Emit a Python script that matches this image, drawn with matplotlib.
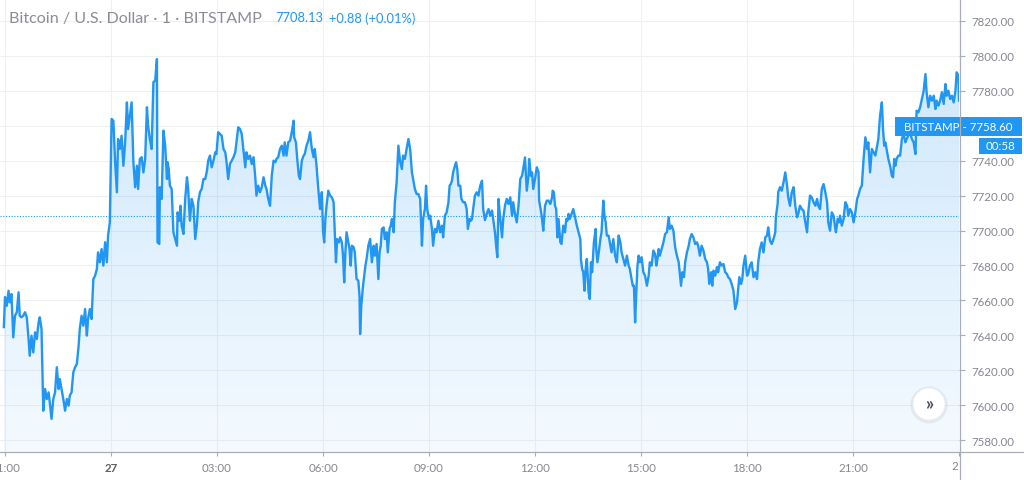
import numpy as np
import matplotlib.pyplot as plt
from matplotlib.patches import Rectangle, Ellipse
from matplotlib.lines import Line2D

plt.rcParams['font.family'] = ['Lato', 'DejaVu Sans']

# minutes since 21:00 (day 26), BITSTAMP BTC/USD 1-minute closes
minutes = [
    -2, 0, 3, 6, 8, 11, 14, 17, 20, 23, 25, 28, 31, 34, 37, 40, 42, 45, 48, 51, 54, 57, 59, 62, 65, 68, 71, 74, 76, 79,
    82, 85, 88, 91, 93, 96, 99, 102, 105, 108, 110, 113, 116, 119, 122, 125, 127, 130, 133, 136, 139, 141, 144, 147,
    150, 153, 156, 158, 161, 164, 167, 170, 173, 175, 178, 181, 184, 187, 190, 192, 195, 198, 201, 204, 207, 209, 212,
    215, 218, 221, 224, 226, 229, 232, 235, 238, 241, 243, 246, 249, 252, 255, 258, 259, 262,
    263, 266, 269, 272, 275, 276, 278, 280, 283, 286, 289, 292, 293, 296, 298, 300, 303, 306, 309, 311, 314, 317, 320,
    323, 326, 328, 331, 334, 337, 340, 343, 345, 348, 351, 354, 357, 359, 362, 365, 368, 371, 374, 376, 379, 382, 385,
    388, 391, 393, 396, 399, 402, 405, 408, 410, 413, 416, 419, 422, 425, 427, 430, 433, 436, 439, 442, 444, 447, 450,
    453, 456, 459, 461, 464, 467, 470, 473, 475, 478, 481, 484, 487, 490, 491, 494, 496, 499, 501, 504, 507, 509, 512,
    515, 518, 521, 524, 526, 529, 532, 535, 538, 540, 542, 544, 546, 549, 552, 555, 558, 560, 562, 564, 567, 569, 572,
    574, 576, 578, 580, 583, 585, 587, 589, 592, 594, 597, 600, 602, 603, 605, 608, 610, 612, 614, 617, 620, 623, 626,
    628, 631, 634, 636, 638, 640, 643, 645, 648, 650, 653, 655, 657, 660, 662, 665, 668, 671, 674, 676, 679, 682, 685,
    688, 691, 693, 696, 699, 702, 705, 708, 710, 713, 715, 717, 720, 722, 725, 727, 730, 733, 736, 739, 742, 744, 747,
    750, 753, 755, 757, 759, 761, 764, 766, 768, 770, 773, 775, 778, 781, 784, 786, 789, 791, 793, 795, 798, 801, 804,
    807, 810, 812, 815, 818, 821, 824, 827, 829, 832, 834, 836, 838, 841, 844, 846, 849, 852, 855, 858, 861, 863, 866,
    869, 872, 875, 878, 880, 883, 886, 889, 890, 893, 895, 897, 900, 903, 906, 907, 910, 912, 914, 917, 920, 923, 926,
    929, 930, 932, 934, 936, 938, 940, 943, 945, 948, 951, 953, 955, 957, 959, 962, 965, 968, 971, 974, 977, 978, 980,
    982, 984, 986, 988, 991, 993, 995, 997, 1000, 1003, 1004, 1006, 1009, 1011, 1013, 1016, 1018, 1020, 1022, 1025,
    1028, 1030, 1033, 1036, 1039, 1042, 1045, 1047, 1050, 1053, 1056, 1059, 1061, 1064, 1066, 1068, 1070, 1072, 1074,
    1076, 1078, 1081, 1084, 1087, 1090, 1093, 1095, 1098, 1101, 1104, 1106, 1108, 1110, 1112, 1115, 1118, 1121, 1124,
    1127, 1129, 1132, 1135, 1138, 1141, 1144, 1146, 1148, 1150, 1153, 1155, 1158, 1161, 1163, 1166, 1169, 1172, 1175,
    1177, 1180, 1183, 1186, 1189, 1192, 1194, 1196, 1199, 1201, 1203, 1206, 1209, 1211, 1214, 1217, 1220, 1223, 1226,
    1228, 1231, 1234, 1237, 1240, 1243, 1245, 1247, 1250, 1252, 1254, 1257, 1260, 1262, 1265, 1268, 1271, 1274, 1277,
    1279, 1282, 1285, 1288, 1291, 1294, 1296, 1299, 1302, 1305, 1308, 1309, 1312, 1313, 1316, 1319, 1322, 1325, 1328,
    1330, 1333, 1336, 1339, 1342, 1345, 1347, 1350, 1353, 1356, 1359, 1362, 1364, 1367, 1370, 1373, 1376, 1379, 1381,
    1384, 1387, 1390, 1393, 1396, 1398, 1401, 1404, 1407, 1410, 1411, 1414, 1416, 1418, 1421, 1424, 1427, 1430, 1432,
    1435, 1438, 1441, 1444, 1447, 1449, 1452, 1455, 1458, 1461, 1464, 1466, 1469, 1472, 1475, 1478, 1481, 1483, 1486,
    1489, 1491, 1493, 1495, 1498, 1500, 1503, 1506, 1508, 1510, 1512, 1514, 1517, 1520, 1523, 1526, 1529, 1531, 1534,
    1537, 1540, 1543, 1546, 1548, 1551, 1554, 1557, 1560, 1563, 1565, 1568, 1571, 1574, 1577, 1580, 1582, 1585, 1588,
    1591, 1594, 1597, 1599, 1602, 1605, 1608, 1611, 1614, 1616, 1619, 1620,
]
prices = [
    7644.7, 7661.9, 7656.9, 7665.5, 7658.9, 7663.6, 7638.8, 7651.2, 7653.2, 7664.6, 7651.2, 7650.3, 7651.2, 7653.2,
    7650.3, 7637.9, 7628.3, 7639.8, 7630.2, 7641.7, 7637.9, 7647.4, 7650.3, 7643.6, 7596.8, 7609.2, 7603.5, 7607.3,
    7601.6, 7592.1, 7603.5, 7607.3, 7621.7, 7609.2, 7614.9, 7609.2, 7603.5, 7596.8, 7603.5, 7599.7, 7605.4, 7607.3,
    7618.8, 7621.7, 7623.6, 7634.1, 7643.6, 7651.2, 7645.5, 7655.0, 7639.8, 7649.3, 7655.0, 7649.3, 7672.2, 7674.1,
    7678.0, 7687.5, 7681.8, 7689.4, 7679.9, 7693.3, 7681.8, 7697.1, 7704.7, 7763.9, 7762.9, 7739.1, 7721.9, 7752.4,
    7746.7, 7754.3, 7737.1, 7750.5, 7773.4, 7758.1, 7765.8, 7773.4, 7739.1, 7724.8, 7737.1, 7723.8, 7741.0, 7742.0,
    7733.3, 7741.0, 7770.6, 7760.0, 7752.4, 7746.7, 7784.9, 7785.8, 7798.2, 7693.2, 7692.3,
    7724.8, 7718.1, 7757.2, 7748.6, 7729.5, 7739.1, 7735.2, 7725.7, 7723.8, 7698.9, 7695.1, 7691.3, 7710.4, 7705.6,
    7714.2, 7702.8, 7698.0, 7718.1, 7730.5, 7723.8, 7705.6, 7718.1, 7714.2, 7695.1, 7703.7, 7716.1, 7721.9, 7723.8,
    7729.5, 7729.5, 7734.3, 7740.0, 7742.9, 7736.2, 7740.0, 7744.8, 7743.8, 7756.3, 7755.3, 7754.3, 7746.7, 7744.8,
    7740.0, 7729.5, 7738.1, 7740.0, 7742.0, 7744.8, 7750.5, 7759.1, 7758.2, 7755.3, 7745.7, 7736.2, 7744.8, 7741.0,
    7742.9, 7738.1, 7742.0, 7730.5, 7720.0, 7725.7, 7721.9, 7724.8, 7730.5, 7725.7, 7723.8, 7718.1, 7714.2, 7731.4,
    7740.0, 7739.1, 7741.0, 7742.0, 7746.7, 7748.6, 7742.9, 7750.5, 7742.9, 7750.5, 7751.4, 7756.3, 7762.9, 7753.4,
    7750.5, 7742.0, 7731.4, 7729.5, 7740.0, 7742.9, 7743.8, 7748.6, 7751.4, 7756.3, 7746.7, 7742.0, 7746.7, 7737.1,
    7723.8, 7712.3, 7722.0, 7700.0, 7693.2, 7706.6, 7714.2, 7722.8, 7720.0, 7719.0, 7716.2, 7699.0, 7681.8, 7695.1,
    7693.2, 7696.1, 7693.2, 7685.6, 7670.3, 7687.5, 7699.0, 7693.2, 7689.4, 7679.9, 7691.3, 7690.4, 7687.5, 7672.2,
    7671.3, 7662.7, 7640.7, 7656.9, 7668.4, 7674.1, 7679.9, 7683.7, 7691.3, 7695.1, 7681.8, 7691.3, 7685.6, 7692.3,
    7672.2, 7687.5, 7691.3, 7700.9, 7701.8, 7695.1, 7699.0, 7687.5, 7700.9, 7702.8, 7706.6, 7699.0, 7716.2, 7727.6,
    7748.6, 7739.3, 7735.2, 7742.9, 7741.0, 7746.7, 7752.4, 7746.7, 7733.3, 7729.5, 7723.8, 7720.9, 7720.9, 7718.1,
    7691.3, 7706.6, 7712.3, 7725.7, 7712.3, 7706.6, 7708.5, 7700.9, 7691.3, 7700.9, 7699.0, 7705.6, 7699.0, 7702.8,
    7696.1, 7708.5, 7710.4, 7716.2, 7725.7, 7726.6, 7728.5, 7733.3, 7737.1, 7739.1, 7735.2, 7725.7, 7725.7, 7718.1,
    7716.2, 7716.2, 7712.3, 7700.9, 7706.6, 7705.6, 7706.6, 7712.3, 7720.0, 7721.9, 7720.0, 7725.7, 7728.5, 7712.3,
    7706.0, 7709.5, 7712.3, 7708.5, 7711.4, 7706.6, 7699.0, 7691.3, 7684.7, 7718.1, 7706.6, 7696.1, 7706.6, 7714.2,
    7718.1, 7715.2, 7719.0, 7708.5, 7716.2, 7709.5, 7704.7, 7714.2, 7729.5, 7731.4, 7735.2, 7741.9, 7722.8, 7731.4,
    7741.0, 7731.4, 7733.3, 7723.8, 7729.5, 7736.2, 7733.3, 7717.1, 7711.4, 7706.6, 7699.9, 7714.2, 7717.1, 7717.1,
    7715.2, 7719.0, 7722.8, 7721.9, 7714.2, 7712.3, 7696.1, 7706.6, 7693.2, 7692.3, 7702.8, 7699.0, 7706.6, 7705.6,
    7709.5, 7706.6, 7709.5, 7712.3, 7707.6, 7702.8, 7699.0, 7695.1, 7683.7, 7678.0, 7676.1, 7665.5, 7678.0, 7683.7,
    7664.6, 7660.8, 7681.8, 7676.1, 7693.2, 7700.9, 7689.4, 7681.8, 7689.4, 7695.1, 7699.0, 7717.1, 7708.5, 7704.7,
    7697.1, 7697.1, 7691.3, 7687.5, 7695.1, 7685.6, 7681.8, 7697.1, 7693.2, 7687.5, 7683.7, 7679.9, 7685.6, 7679.9,
    7678.0, 7672.2, 7668.4, 7668.4, 7647.4, 7664.6, 7679.9, 7685.6, 7681.8, 7684.7, 7676.1, 7674.0, 7668.4, 7674.1,
    7681.8, 7679.9, 7688.5, 7686.6, 7679.9, 7683.7, 7689.4, 7685.6, 7689.4, 7693.2, 7698.0, 7699.0, 7707.6, 7700.9,
    7702.8, 7699.9, 7690.4, 7685.6, 7681.8, 7675.1, 7668.4, 7676.1, 7673.3, 7681.8, 7687.5, 7691.3, 7695.1, 7698.0,
    7696.1, 7692.3, 7693.2, 7691.3, 7685.6, 7691.3, 7688.5, 7683.7, 7681.8, 7678.0, 7669.4, 7676.1, 7668.4, 7677.0,
    7674.1, 7679.1, 7676.1, 7681.8, 7679.9, 7680.8, 7676.1, 7675.1, 7673.3, 7672.2, 7669.4, 7665.5, 7655.0, 7658.9,
    7666.5, 7673.3, 7669.4, 7672.2, 7679.9, 7685.6, 7674.1, 7675.1, 7679.9, 7681.8, 7673.3, 7676.1, 7672.2, 7681.8,
    7689.4, 7693.2, 7687.5, 7696.1, 7697.1, 7701.8, 7694.2, 7692.3, 7695.1, 7699.0, 7707.6, 7715.2, 7721.9, 7724.8,
    7722.8, 7727.6, 7733.3, 7725.7, 7719.0, 7714.2, 7721.9, 7724.8, 7714.2, 7707.6, 7709.5, 7714.2, 7712.3, 7711.4,
    7704.7, 7699.0, 7710.4, 7720.0, 7719.0, 7716.2, 7714.2, 7718.1, 7714.2, 7712.3, 7723.8, 7726.6, 7721.9, 7716.2,
    7704.7, 7699.9, 7710.4, 7708.5, 7700.9, 7699.0, 7706.6, 7704.7, 7708.5, 7702.8, 7706.6, 7716.2, 7714.2, 7708.5,
    7712.3, 7710.4, 7704.7, 7710.4, 7718.1, 7720.0, 7723.8, 7725.7, 7741.0, 7753.4, 7746.7, 7750.5, 7733.3, 7746.7,
    7744.8, 7742.9, 7748.6, 7752.4, 7765.8, 7773.4, 7758.1, 7748.6, 7750.5, 7744.8, 7741.0, 7737.1, 7731.4, 7730.5,
    7741.0, 7737.1, 7741.0, 7742.9, 7742.9, 7752.4, 7755.3, 7750.5, 7752.4, 7754.3, 7756.3, 7752.4, 7750.5, 7743.8,
    7768.6, 7767.7, 7770.6, 7775.3, 7780.1, 7789.6, 7779.2, 7770.6, 7777.2, 7774.4, 7777.2, 7769.6, 7774.4, 7771.5,
    7774.4, 7779.2, 7772.5, 7783.9, 7777.2, 7780.1, 7775.3, 7777.2, 7773.4, 7780.1, 7790.6, 7788.7, 7774.4,
]

tick_minutes = [0, 180, 360, 540, 720, 900, 1080, 1260, 1440, 1620]
tick_labels = ['21:00', '27', '03:00', '06:00', '09:00', '12:00', '15:00', '18:00', '21:00', '']
price_ticks = list(range(7580, 7821, 20))
open_price = 7708.13
last_price = 7758.60

blue = '#2196f3'
grid_col = '#eef0f4'
axis_col = '#a9adb5'
text_col = '#84878f'

W, H = 1024, 481
fig = plt.figure(figsize=(W / 100, H / 100), dpi=100)
ax = fig.add_axes([0, 28 / H, 959 / W, 453 / H])

y0, y1 = 7573.15, 7832.6
t = np.array(minutes)
p = np.array(prices)

ax.plot(t, p, color=blue, lw=1.7, zorder=4, solid_joinstyle='round')

# gradient area under the line
poly = ax.fill_between(t, p, y0, facecolor='none', edgecolor='none')
n = 256
img = np.zeros((n, 1, 4))
img[..., 0] = 33 / 255
img[..., 1] = 150 / 255
img[..., 2] = 243 / 255
img[:, 0, 3] = np.linspace(0.22, 0.05, n)
im = ax.imshow(img, extent=[t[0], t[-1], y0, p.max()], aspect='auto', origin='upper',
               zorder=2, interpolation='bilinear')
im.set_clip_path(poly.get_paths()[0], transform=ax.transData)

ax.axhline(open_price, color=blue, lw=0.8, ls=(0, (1, 1.5)), zorder=3)

ax.set_xlim(-8.5, 1620)
ax.set_ylim(y0, y1)

ax.set_xticks(tick_minutes)
ax.set_xticklabels(tick_labels)
ax.set_yticks(price_ticks)
# the 7760 label sits under the last-price tag, so it is left blank
ax.set_yticklabels(['' if v == 7760 else f'{v:.2f}' for v in price_ticks])
ax.yaxis.tick_right()
ax.grid(color=grid_col, lw=0.8, zorder=0)
ax.set_axisbelow(True)
ax.tick_params(axis='y', length=4, width=0.8, color=axis_col, pad=5, labelsize=8.3, labelcolor=text_col)
ax.tick_params(axis='x', length=3, width=0.8, color=axis_col, pad=4, labelsize=8.3, labelcolor=text_col)
lbl = ax.get_xticklabels()[1]
lbl.set_fontweight('bold')
lbl.set_color('#5d6068')
for s in ax.spines.values():
    s.set_visible(False)

# axis frame lines (full width / full height like the chart widget)
fig.add_artist(Line2D([0, 1], [28 / H, 28 / H], transform=fig.transFigure, color=axis_col, lw=0.9))
fig.add_artist(Line2D([959.5 / W, 959.5 / W], [0, 1], transform=fig.transFigure, color=axis_col, lw=0.9))
fig.text(958.5 / W, 1 - 467 / H, '2', ha='right', va='center', fontsize=8.3, color=text_col)

# header
fig.text(9 / W, 1 - 18.5 / H, 'Bitcoin / U.S. Dollar · 1 · BITSTAMP', ha='left', va='center',
         fontsize=11.6, color='#8a8d95')
fig.text(275 / W, 1 - 18.5 / H, f'{open_price:.2f}', ha='left', va='center', fontsize=9.3, color=blue)
fig.text(329 / W, 1 - 18.5 / H, '+0.88 (+0.01%)', ha='left', va='center', fontsize=9.3, color=blue)

# price labels on the right scale
fig.add_artist(Rectangle((895 / W, 1 - 137 / H), 127 / W, 19 / H, transform=fig.transFigure,
                         facecolor=blue, edgecolor='none'))
fig.text(958.5 / W, 1 - 127.5 / H, f'BITSTAMP - {last_price:.2f}', ha='center', va='center',
         fontsize=8.3, color='white')
fig.add_artist(Rectangle((979 / W, 1 - 155 / H), 43 / W, 16 / H, transform=fig.transFigure,
                         facecolor=blue, edgecolor='none'))
fig.text(1000.5 / W, 1 - 147 / H, '00:58', ha='center', va='center', fontsize=8.3, color='white')

# scroll button
fig.add_artist(Ellipse((929 / W, 1 - 406 / H), 37 / W, 37 / H, transform=fig.transFigure,
                       facecolor='#000000', alpha=0.06, edgecolor='none'))
fig.add_artist(Ellipse((929 / W, 1 - 405 / H), 32 / W, 32 / H, transform=fig.transFigure,
                       facecolor='white', edgecolor='#eceef2', lw=0.6))
fig.text(929 / W, 1 - 404 / H, '»', ha='center', va='center', fontsize=13, fontweight='bold',
         color='#4a4d55')

fig.savefig('out.png', dpi=100)
